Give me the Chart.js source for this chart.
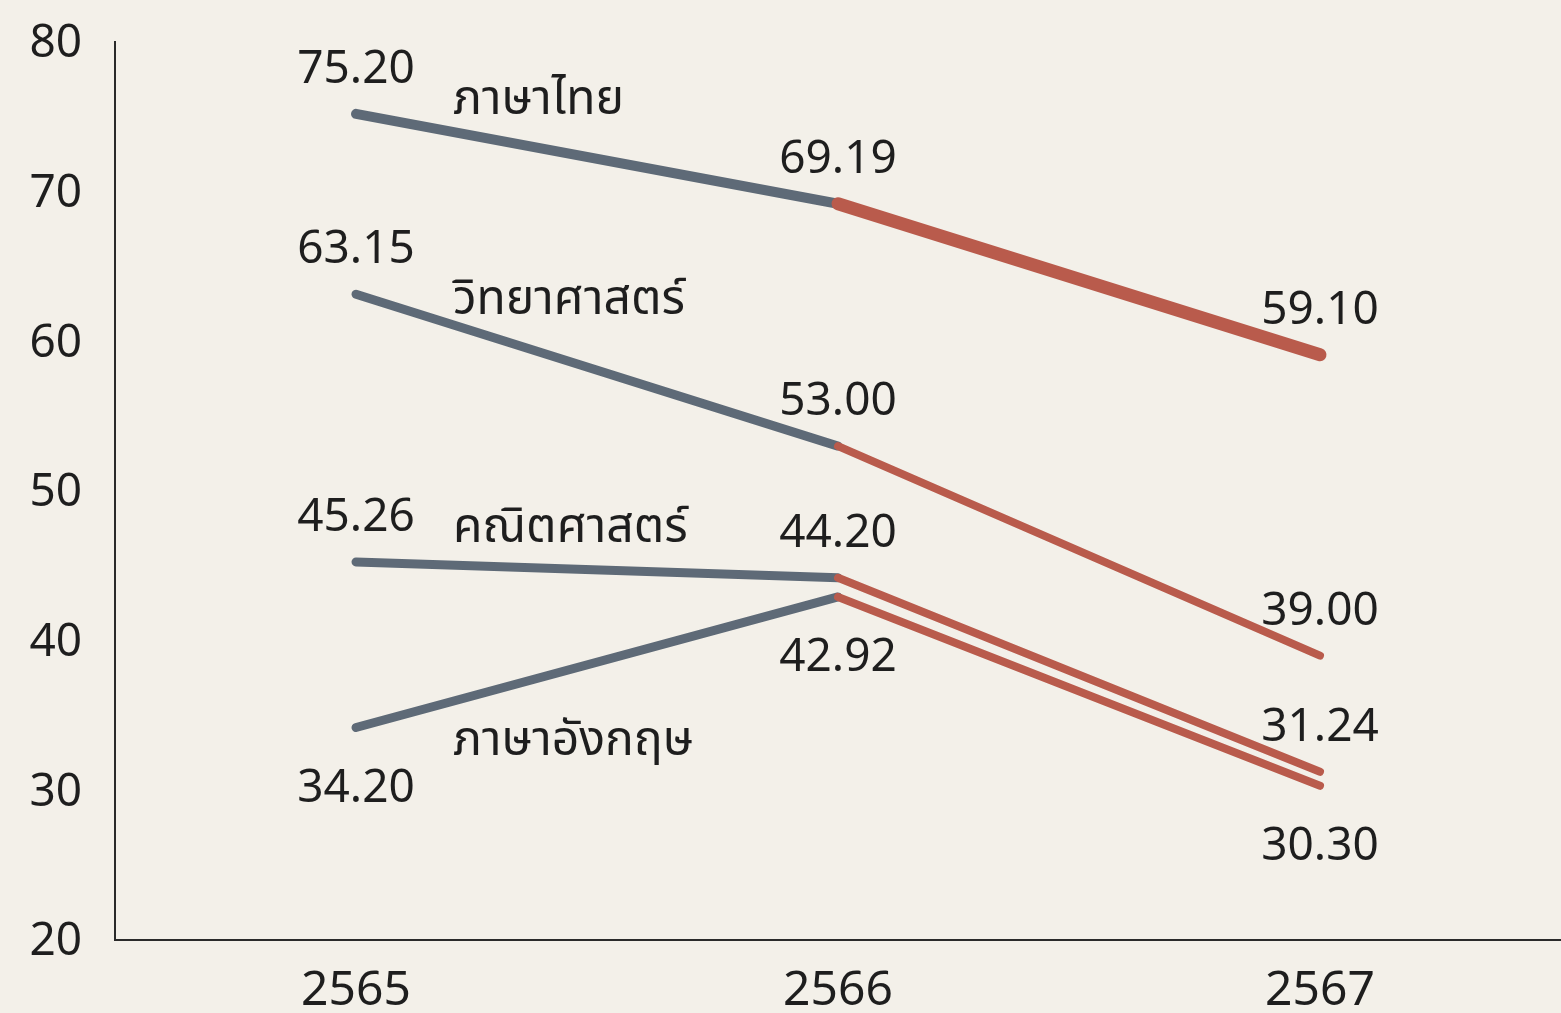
<!DOCTYPE html>
<html>
<head>
<meta charset="utf-8">
<script src="https://cdn.jsdelivr.net/npm/chart.js@4/dist/chart.umd.min.js"></script>
<style>
  html, body { margin: 0; padding: 0; background: #f3f0e9; }
  #wrap { width: 1561px; height: 1013px; }
</style>
</head>
<body>
<div id="wrap"><canvas id="chart"></canvas></div>
<script>
// ข้อมูล
const years = ["2565", "2566", "2567"];
const subjects = ["ภาษาไทย", "วิทยาศาสตร์", "คณิตศาสตร์", "ภาษาอังกฤษ"];
const thai = [75.20, 69.19, 59.10];
const science = [63.15, 53.00, 39.00];
const math = [45.26, 44.20, 31.24];
const english = [34.20, 42.92, 30.30];
const yTicks = [20, 30, 40, 50, 60, 70, 80];

// สี / รูปแบบ
const GREY = "#5e6a77";
const RED = "#b95b4c";
const FONT = "'Noto Sans Thai', 'Noto Sans', sans-serif";
const greyWidth = [10, 9, 9, 9];
const redWidth = [13, 8, 8, 8];
// ตำแหน่งป้ายค่า: -1 = บน, 1 = ล่าง
const valueSide = [
  [-1, -1, -1],
  [-1, -1, -1],
  [-1, -1, -1],
  [1, 1, 1]
];
const nameDy = [-10, 10, -30, 18];

const series = [thai, science, math, english];

const labelPlugin = {
  id: "labels",
  afterDatasetsDraw(chart) {
    const ctx = chart.ctx;
    ctx.save();
    ctx.fillStyle = "#1e1e1e";
    ctx.textBaseline = "middle";
    series.forEach((vals, i) => {
      const pts = chart.getDatasetMeta(i).data;
      ctx.font = "46px " + FONT;
      ctx.textAlign = "center";
      pts.forEach((p, j) => {
        const dy = valueSide[i][j] < 0 ? -40 : 65;
        ctx.fillText(vals[j].toFixed(2), p.x, p.y + dy);
      });
      ctx.font = "48px " + FONT;
      ctx.textAlign = "left";
      ctx.fillText(subjects[i], pts[0].x + 97, pts[0].y + nameDy[i]);
    });
    ctx.restore();
  }
};

new Chart(document.getElementById("chart"), {
  type: "line",
  data: {
    labels: years,
    datasets: series.map((vals, i) => ({
      label: subjects[i],
      data: vals,
      borderColor: GREY,
      borderWidth: greyWidth[i],
      borderCapStyle: "round",
      pointRadius: 0,
      tension: 0,
      segment: {
        borderColor: (c) => (c.p0DataIndex === 0 ? GREY : RED),
        borderWidth: (c) => (c.p0DataIndex === 0 ? greyWidth[i] : redWidth[i])
      }
    }))
  },
  options: {
    responsive: true,
    maintainAspectRatio: false,
    animation: false,
    layout: { padding: 0 },
    plugins: { legend: { display: false }, tooltip: { enabled: false } },
    scales: {
      x: {
        offset: true,
        grid: { display: false, drawTicks: false },
        border: { display: true, color: "#2a2a2a", width: 2 },
        ticks: { color: "#1e1e1e", font: { family: FONT, size: 48 }, padding: 26 },
        afterFit: (s) => { s.height = 73; }
      },
      y: {
        min: yTicks[0],
        max: yTicks[yTicks.length - 1],
        afterBuildTicks: (s) => { s.ticks = yTicks.map((v) => ({ value: v })); },
        grid: { display: false, drawTicks: false },
        border: { display: true, color: "#2a2a2a", width: 2 },
        ticks: { color: "#1e1e1e", font: { family: FONT, size: 46 }, padding: 33, labelOffset: 6 },
        afterFit: (s) => { s.width = 115; s.paddingTop = 42; s.paddingBottom = 20; }
      }
    }
  },
  plugins: [labelPlugin]
});
</script>
</body>
</html>
